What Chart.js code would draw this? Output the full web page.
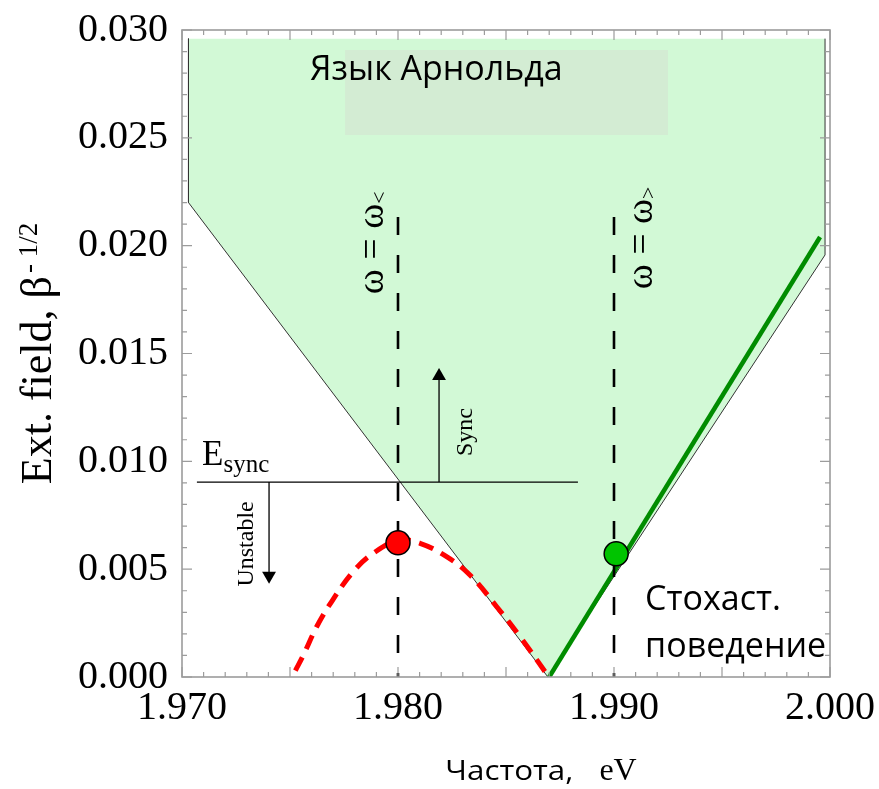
<!DOCTYPE html>
<html>
<head>
<meta charset="utf-8">
<script src="https://cdn.jsdelivr.net/npm/chart.js@4.4.1/dist/chart.umd.min.js"></script>
<style>
  body { margin: 0; background: #fff; }
  canvas { display: block; }
</style>
</head>
<body>
<canvas id="tongueChart" width="879" height="789"></canvas>
<script>
// ---- axis ticks ----
const xTicks = [1.970, 1.980, 1.990, 2.000];
const yTicks = [0.000, 0.005, 0.010, 0.015, 0.020, 0.025, 0.030];

// ---- Arnold tongue boundary (frequency, field) ----
const tongueX = [1.9703, 1.9703, 1.98694, 1.99977, 1.99977];
const tongueY = [0.0296, 0.0220, 0.0000, 0.01957, 0.0296];

// shaded box behind the title label
const boxX = [1.97755, 1.9925, 1.9925, 1.97755];
const boxY = [0.02907, 0.02907, 0.02513, 0.02513];

// unstable branch (red dashed)
const redX = [1.97525, 1.97562, 1.97624, 1.97693, 1.97793, 1.97886, 1.98005, 1.98102, 1.98225, 1.98333, 1.98457, 1.98565, 1.98695];
const redY = [0.00030, 0.00102, 0.00234, 0.00350, 0.00489, 0.00574, 0.00634, 0.00620, 0.00558, 0.00473, 0.00326, 0.00187, 0.00005];

// stable branch (green)
const greenX = [1.9870, 1.99954];
const greenY = [0.0000, 0.0204];

// omega = omega< / omega> lines
const omegaX = [1.980, 1.990];
const omegaY = [0.02133, 0.0];

// E_sync level
const eSyncX = [1.97069, 1.98833];
const eSyncY = [0.00904, 0.00904];

// arrows
const syncArrowX = [1.9819, 1.9819];
const syncArrowY = [0.00904, 0.01396];
const unstArrowX = [1.97403, 1.97403];
const unstArrowY = [0.00904, 0.00469];

// marked points
const redPointX = [1.980];
const redPointY = [0.00622];
const greenPointX = [1.9901];
const greenPointY = [0.00571];

const serif = '"Liberation Serif", "Times New Roman", serif';
const sans = '"Open Sans", "Noto Sans", sans-serif';

function pts(xs, ys) {
    return xs.map((v, i) => ({ x: v, y: ys[i] }));
}

function lineSet(xs, ys, extra) {
    return Object.assign({
        data: pts(xs, ys),
        showLine: true,
        fill: false,
        pointRadius: 0,
        borderColor: '#000',
        borderWidth: 1.3
    }, extra);
}

// text runs: several pieces along one baseline, optionally rotated / stretched
function drawRuns(ctx, runs, x, y, angle, align) {
    ctx.save();
    ctx.translate(x, y);
    ctx.rotate(angle);
    ctx.textBaseline = 'alphabetic';
    ctx.textAlign = 'left';
    ctx.fillStyle = '#000';
    const widthOf = r => {
        ctx.font = r.font;
        return ctx.measureText(r.text).width * (r.sx || 1) + (r.gap || 0);
    };
    const w = runs.reduce((s, r) => s + widthOf(r), 0);
    let cx = align === 'center' ? -w / 2 : 0;
    runs.forEach(r => {
        ctx.save();
        ctx.font = r.font;
        ctx.translate(cx, r.dy || 0);
        ctx.scale(r.sx || 1, 1);
        ctx.fillText(r.text, 0, 0);
        ctx.restore();
        cx += widthOf(r);
    });
    ctx.restore();
}

const decor = {
    id: 'decor',
    afterDatasetsDraw(chart) {
        const { ctx, chartArea: a, scales: { x, y } } = chart;
        const up = -Math.PI / 2;

        // frame with inward ticks on all sides
        ctx.save();
        ctx.strokeStyle = '#9c9c9c';
        ctx.lineWidth = 1.2;
        ctx.beginPath();
        for (let i = 0; i <= 30; i++) {
            const px = x.getPixelForValue(x.min + i * 0.001);
            const len = i % 5 === 0 ? 10 : 5;
            ctx.moveTo(px, a.top); ctx.lineTo(px, a.top + len);
            ctx.moveTo(px, a.bottom); ctx.lineTo(px, a.bottom - len);
        }
        for (let i = 0; i <= 30; i++) {
            const py = y.getPixelForValue(y.min + i * 0.001);
            const len = i % 5 === 0 ? 10 : 5;
            ctx.moveTo(a.left, py); ctx.lineTo(a.left + len, py);
            ctx.moveTo(a.right, py); ctx.lineTo(a.right - len, py);
        }
        ctx.stroke();
        ctx.lineWidth = 1.6;
        ctx.strokeRect(a.left, a.top, a.width, a.height);
        ctx.restore();

        const X = v => x.getPixelForValue(v);
        const Y = v => y.getPixelForValue(v);

        drawRuns(ctx, [{ text: 'Язык Арнольда', font: '34px ' + sans }],
            X(1.97593), Y(0.02768), 0, 'left');
        drawRuns(ctx, [{ text: 'Стохаст.', font: '34px ' + sans }],
            X(1.99144), Y(0.00311), 0, 'left');
        drawRuns(ctx, [{ text: 'поведение', font: '34px ' + sans }],
            X(1.99144), Y(0.00093), 0, 'left');

        drawRuns(ctx, [
            { text: 'E', font: '35px ' + serif },
            { text: 'sync', font: '25px ' + serif, dy: 7 }
        ], X(1.97093), Y(0.00983), 0, 'left');

        drawRuns(ctx, [{ text: 'Unstable', font: '24px ' + serif }],
            253, Y(0.00617), up, 'center');
        drawRuns(ctx, [{ text: 'Sync', font: '24px ' + serif }],
            472, Y(0.01136), up, 'center');

        drawRuns(ctx, [
            { text: 'ω = ω', font: '38px ' + serif },
            { text: '<', font: '22px ' + serif, dy: 3 }
        ], 383, Y(0.02013), up, 'center');
        drawRuns(ctx, [
            { text: 'ω = ω', font: '38px ' + serif },
            { text: '>', font: '22px ' + serif, dy: 3 }
        ], 652, Y(0.02036), up, 'center');

        // axis titles
        drawRuns(ctx, [
            { text: 'Ext. field, β', font: '44px ' + serif, gap: 3 },
            { text: '- 1/2', font: '27px ' + serif, dy: -14 }
        ], 51, (a.top + a.bottom) / 2, up, 'center');
        drawRuns(ctx, [
            { text: 'Частота,', font: '28px ' + sans, sx: 1.12, gap: 26 },
            { text: 'eV', font: '32px ' + serif }
        ], 541, 780, 0, 'center');
    }
};

const datasets = [
    lineSet(greenPointX, greenPointY, { showLine: false, pointRadius: 12, pointBackgroundColor: '#00c400', pointBorderColor: '#000', pointBorderWidth: 1.5, order: 0 }),
    lineSet(redPointX, redPointY, { showLine: false, pointRadius: 12, pointBackgroundColor: '#ff0000', pointBorderColor: '#000', pointBorderWidth: 1.5, order: 1 }),
    lineSet(syncArrowX, syncArrowY, { pointRadius: [0, 8], pointStyle: 'triangle', pointRotation: 0, pointBackgroundColor: '#000', pointBorderColor: '#000', pointBorderWidth: 0, order: 2 }),
    lineSet(unstArrowX, unstArrowY, { pointRadius: [0, 8], pointStyle: 'triangle', pointRotation: 180, pointBackgroundColor: '#000', pointBorderColor: '#000', pointBorderWidth: 0, order: 3 }),
    lineSet(eSyncX, eSyncY, { order: 4 }),
    lineSet([omegaX[0], omegaX[0]], omegaY, { borderWidth: 2.6, borderDash: [18, 20], order: 5 }),
    lineSet([omegaX[1], omegaX[1]], omegaY, { borderWidth: 2.6, borderDash: [18, 20], order: 6 }),
    lineSet(greenX, greenY, { borderColor: '#008c00', borderWidth: 4.5, order: 7 }),
    lineSet(redX, redY, { borderColor: '#ff0000', borderWidth: 5, borderDash: [15, 9], tension: 0.4, order: 8 }),
    lineSet(tongueX, tongueY, { borderColor: '#333', borderWidth: 1, order: 9 }),
    lineSet(boxX, boxY, { fill: 'shape', backgroundColor: '#d3ecd3', borderWidth: 0, order: 10 }),
    lineSet(tongueX, tongueY, { fill: 'shape', backgroundColor: '#d2f9d6', borderWidth: 0, order: 11 })
];

function zeroPad(s) {
    s.paddingLeft = s.paddingRight = s.paddingTop = s.paddingBottom = 0;
}

new Chart(document.getElementById('tongueChart').getContext('2d'), {
    type: 'scatter',
    data: { datasets: datasets },
    options: {
        responsive: false,
        animation: false,
        layout: { padding: { top: 30, right: 49, left: 0, bottom: 0 } },
        plugins: { legend: { display: false }, tooltip: { enabled: false } },
        scales: {
            x: {
                type: 'linear',
                min: 1.970,
                max: 2.000,
                afterBuildTicks: s => { s.ticks = xTicks.map(v => ({ value: v })); },
                ticks: {
                    callback: v => v.toFixed(3),
                    font: { family: serif, size: 40 },
                    color: '#000',
                    padding: 7,
                    maxRotation: 0,
                    autoSkip: false
                },
                grid: { display: false, drawTicks: false },
                border: { display: false },
                afterFit: s => { s.height = 112; zeroPad(s); }
            },
            y: {
                type: 'linear',
                min: 0,
                max: 0.030,
                afterBuildTicks: s => { s.ticks = yTicks.map(v => ({ value: v })); },
                ticks: {
                    callback: v => v.toFixed(3),
                    font: { family: serif, size: 40 },
                    color: '#000',
                    padding: 14,
                    autoSkip: false
                },
                grid: { display: false, drawTicks: false },
                border: { display: false },
                afterFit: s => { s.width = 182; zeroPad(s); }
            }
        }
    },
    plugins: [decor]
});
</script>
</body>
</html>
